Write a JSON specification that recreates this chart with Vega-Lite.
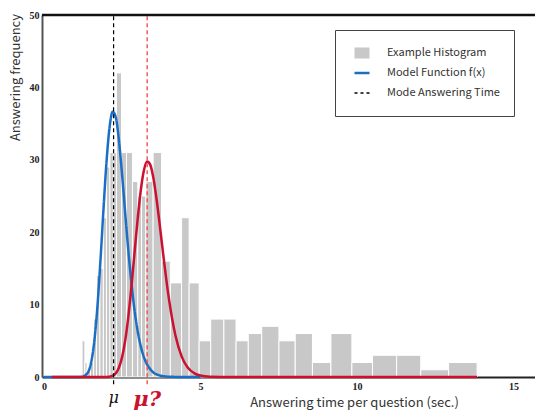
{
  "$schema": "https://vega.github.io/schema/vega-lite/v6.json",
  "width": 493,
  "height": 362,
  "autosize": "none",
  "padding": {"left": 42, "top": 15, "right": 0, "bottom": 36},
  "background": "white",
  "config": {
    "view": {"stroke": null},
    "legend": {
      "orient": "none", "legendX": 293, "legendY": 15,
      "strokeColor": "#444", "fillColor": "white", "padding": 14, "rowPadding": 2, "clipHeight": 18,
      "symbolSize": 225, "labelFont": "Noto Sans CJK JP", "labelFontSize": 11, "labelColor": "#333",
      "labelOffset": 12, "cornerRadius": 0
    }
  },
  "datasets": {
    "bars": [
      {"x0": 1.22, "x1": 1.31, "count": 5},
      {"x0": 1.31, "x1": 1.38, "count": 2},
      {"x0": 1.38, "x1": 1.49, "count": 1},
      {"x0": 1.49, "x1": 1.59, "count": 2},
      {"x0": 1.59, "x1": 1.68, "count": 8},
      {"x0": 1.68, "x1": 1.79, "count": 14},
      {"x0": 1.79, "x1": 1.90, "count": 15},
      {"x0": 1.90, "x1": 2.00, "count": 22},
      {"x0": 2.00, "x1": 2.11, "count": 29},
      {"x0": 2.11, "x1": 2.22, "count": 31},
      {"x0": 2.22, "x1": 2.32, "count": 31},
      {"x0": 2.32, "x1": 2.48, "count": 42},
      {"x0": 2.48, "x1": 2.64, "count": 31},
      {"x0": 2.64, "x1": 2.83, "count": 31},
      {"x0": 2.83, "x1": 3.00, "count": 27},
      {"x0": 3.00, "x1": 3.12, "count": 25},
      {"x0": 3.12, "x1": 3.26, "count": 25},
      {"x0": 3.26, "x1": 3.49, "count": 27},
      {"x0": 3.49, "x1": 3.76, "count": 31},
      {"x0": 3.76, "x1": 4.04, "count": 16},
      {"x0": 4.04, "x1": 4.40, "count": 13},
      {"x0": 4.40, "x1": 4.64, "count": 22},
      {"x0": 4.64, "x1": 4.96, "count": 13},
      {"x0": 4.96, "x1": 5.33, "count": 5},
      {"x0": 5.33, "x1": 5.75, "count": 8},
      {"x0": 5.75, "x1": 6.14, "count": 8},
      {"x0": 6.14, "x1": 6.53, "count": 5},
      {"x0": 6.53, "x1": 6.96, "count": 6},
      {"x0": 6.96, "x1": 7.51, "count": 7},
      {"x0": 7.51, "x1": 8.03, "count": 5},
      {"x0": 8.03, "x1": 8.58, "count": 6},
      {"x0": 8.58, "x1": 9.17, "count": 2},
      {"x0": 9.17, "x1": 9.84, "count": 6},
      {"x0": 9.84, "x1": 10.50, "count": 2},
      {"x0": 10.50, "x1": 11.27, "count": 3},
      {"x0": 11.27, "x1": 12.04, "count": 3},
      {"x0": 12.04, "x1": 12.93, "count": 1},
      {"x0": 12.93, "x1": 13.84, "count": 2}
    ],
    "blue": [
      {"t": 0, "f": 0, "series": "Model Function f(x)"}, {"t": 1.0, "f": 0, "series": "Model Function f(x)"},
      {"t": 1.2, "f": 0.02, "series": "Model Function f(x)"}, {"t": 1.4, "f": 0.58, "series": "Model Function f(x)"},
      {"t": 1.5, "f": 1.83, "series": "Model Function f(x)"}, {"t": 1.6, "f": 4.52, "series": "Model Function f(x)"},
      {"t": 1.7, "f": 9.13, "series": "Model Function f(x)"}, {"t": 1.8, "f": 15.55, "series": "Model Function f(x)"},
      {"t": 1.9, "f": 22.87, "series": "Model Function f(x)"}, {"t": 2.0, "f": 29.66, "series": "Model Function f(x)"},
      {"t": 2.1, "f": 34.55, "series": "Model Function f(x)"}, {"t": 2.2, "f": 36.64, "series": "Model Function f(x)"},
      {"t": 2.3, "f": 35.81, "series": "Model Function f(x)"}, {"t": 2.4, "f": 32.59, "series": "Model Function f(x)"},
      {"t": 2.5, "f": 27.86, "series": "Model Function f(x)"}, {"t": 2.6, "f": 22.54, "series": "Model Function f(x)"},
      {"t": 2.7, "f": 17.36, "series": "Model Function f(x)"}, {"t": 2.8, "f": 12.82, "series": "Model Function f(x)"},
      {"t": 2.9, "f": 9.10, "series": "Model Function f(x)"}, {"t": 3.0, "f": 6.25, "series": "Model Function f(x)"},
      {"t": 3.1, "f": 4.16, "series": "Model Function f(x)"}, {"t": 3.2, "f": 2.69, "series": "Model Function f(x)"},
      {"t": 3.4, "f": 1.06, "series": "Model Function f(x)"}, {"t": 3.7, "f": 0.22, "series": "Model Function f(x)"},
      {"t": 4.0, "f": 0.04, "series": "Model Function f(x)"}, {"t": 4.5, "f": 0, "series": "Model Function f(x)"},
      {"t": 5.0, "f": 0, "series": "Model Function f(x)"}
    ],
    "red": [
      {"t": 0.25, "f": 0}, {"t": 2.0, "f": 0}, {"t": 2.2, "f": 0.2}, {"t": 2.4, "f": 1.32},
      {"t": 2.5, "f": 2.76}, {"t": 2.6, "f": 5.08}, {"t": 2.7, "f": 8.42}, {"t": 2.8, "f": 12.62},
      {"t": 2.9, "f": 17.34}, {"t": 3.0, "f": 21.98}, {"t": 3.1, "f": 25.93}, {"t": 3.2, "f": 28.63},
      {"t": 3.3, "f": 29.77}, {"t": 3.4, "f": 29.3}, {"t": 3.5, "f": 27.44}, {"t": 3.6, "f": 24.55},
      {"t": 3.7, "f": 21.06}, {"t": 3.8, "f": 17.38}, {"t": 3.9, "f": 13.84}, {"t": 4.0, "f": 10.67},
      {"t": 4.1, "f": 7.98}, {"t": 4.2, "f": 5.81}, {"t": 4.4, "f": 2.85}, {"t": 4.6, "f": 1.28},
      {"t": 4.8, "f": 0.54}, {"t": 5.0, "f": 0.21}, {"t": 5.3, "f": 0.05}, {"t": 6.0, "f": 0},
      {"t": 13.84, "f": 0}
    ],
    "frame": [{"xa": -0.06, "xb": 15.69, "y": 50}],
    "mode": [{"mu": 2.227, "lo": -1, "hi": 50, "ly": -2.85, "label": "μ"}],
    "guess": [{"mu": 3.30, "lo": -1, "hi": 50, "ly": -3.2, "label": "μ?"}]
  },
  "layer": [
    {
      "data": {"name": "bars"},
      "mark": {"type": "rect", "color": "#c8c8c8", "stroke": "white", "strokeWidth": 1},
      "encoding": {
        "x": {
          "field": "x0", "type": "quantitative",
          "scale": {"domain": [-0.06, 15.69], "nice": false, "zero": false},
          "axis": {
            "values": [0, 5, 10, 15], "ticks": false, "grid": false,
            "domainColor": "#222", "domainWidth": 2,
            "labelFont": "Liberation Serif", "labelFontWeight": "bold", "labelFontSize": 10, "labelColor": "#222",
            "labelPadding": 4,
            "title": "Answering time per question (sec.)",
            "titleFont": "Noto Sans CJK JP", "titleFontWeight": "normal", "titleFontSize": 13, "titleColor": "#333",
            "titleX": 312, "titleY": 29, "titleAlign": "center", "titleBaseline": "alphabetic"
          }
        },
        "x2": {"field": "x1"},
        "y": {
          "field": "count", "type": "quantitative",
          "scale": {"domain": [0, 50], "nice": false},
          "axis": {
            "values": [0, 10, 20, 30, 40, 50], "ticks": false, "grid": false,
            "domainColor": "#555", "domainWidth": 2,
            "labelFont": "Liberation Serif", "labelFontWeight": "bold", "labelFontSize": 10, "labelColor": "#222",
            "labelPadding": 3,
            "title": "Answering frequency",
            "titleFont": "Noto Sans CJK JP", "titleFontWeight": "normal", "titleFontSize": 13, "titleColor": "#333",
            "titleAngle": -90, "titleX": -20, "titleY": 62, "titleAlign": "center", "titleBaseline": "bottom"
          }
        },
        "y2": {"datum": 0}
      }
    },
    {
      "data": {"name": "blue"},
      "mark": {"type": "line", "interpolate": "monotone"},
      "encoding": {
        "x": {"field": "t", "type": "quantitative"},
        "y": {"field": "f", "type": "quantitative"},
        "color": {
          "field": "series", "type": "nominal",
          "scale": {
            "domain": ["Example Histogram", "Model Function f(x)", "Mode Answering Time"],
            "range": ["#c8c8c8", "#1a6fc4", "#000000"]
          },
          "legend": {"title": null}
        },
        "strokeWidth": {
          "field": "series", "type": "nominal",
          "scale": {
            "type": "ordinal",
            "domain": ["Example Histogram", "Model Function f(x)", "Mode Answering Time"],
            "range": [11, 2.5, 1.5]
          },
          "legend": {"title": null}
        },
        "strokeDash": {
          "field": "series", "type": "nominal",
          "scale": {
            "domain": ["Example Histogram", "Model Function f(x)", "Mode Answering Time"],
            "range": [[1, 0], [1, 0], [3, 3]]
          },
          "legend": {"title": null}
        }
      }
    },
    {
      "data": {"name": "red"},
      "mark": {"type": "line", "color": "#cc1030", "strokeWidth": 2.5, "interpolate": "monotone"},
      "encoding": {
        "x": {"field": "t", "type": "quantitative"},
        "y": {"field": "f", "type": "quantitative"}
      }
    },
    {
      "data": {"name": "mode"},
      "mark": {"type": "rule", "color": "#000000", "strokeWidth": 1.2, "strokeDash": [4, 3]},
      "encoding": {
        "x": {"field": "mu", "type": "quantitative"},
        "y": {"field": "lo", "type": "quantitative"},
        "y2": {"field": "hi"}
      }
    },
    {
      "data": {"name": "guess"},
      "mark": {"type": "rule", "color": "#f25050", "strokeWidth": 1.4, "strokeDash": [4, 3]},
      "encoding": {
        "x": {"field": "mu", "type": "quantitative"},
        "y": {"field": "lo", "type": "quantitative"},
        "y2": {"field": "hi"}
      }
    },
    {
      "data": {"name": "frame"},
      "mark": {"type": "rule", "color": "#111111", "strokeWidth": 2.5},
      "encoding": {
        "x": {"field": "xa", "type": "quantitative"},
        "x2": {"field": "xb"},
        "y": {"field": "y", "type": "quantitative"}
      }
    },
    {
      "data": {"name": "mode"},
      "mark": {"type": "text", "font": "DejaVu Serif", "fontStyle": "italic", "fontSize": 16, "color": "#111111", "align": "center", "baseline": "middle"},
      "encoding": {
        "x": {"field": "mu", "type": "quantitative"},
        "y": {"field": "ly", "type": "quantitative"},
        "text": {"field": "label"}
      }
    },
    {
      "data": {"name": "guess"},
      "mark": {"type": "text", "font": "DejaVu Serif", "fontStyle": "italic", "fontWeight": "bold", "fontSize": 21, "color": "#cc1030", "align": "center", "baseline": "middle"},
      "encoding": {
        "x": {"field": "mu", "type": "quantitative"},
        "y": {"field": "ly", "type": "quantitative"},
        "text": {"field": "label"}
      }
    }
  ]
}
